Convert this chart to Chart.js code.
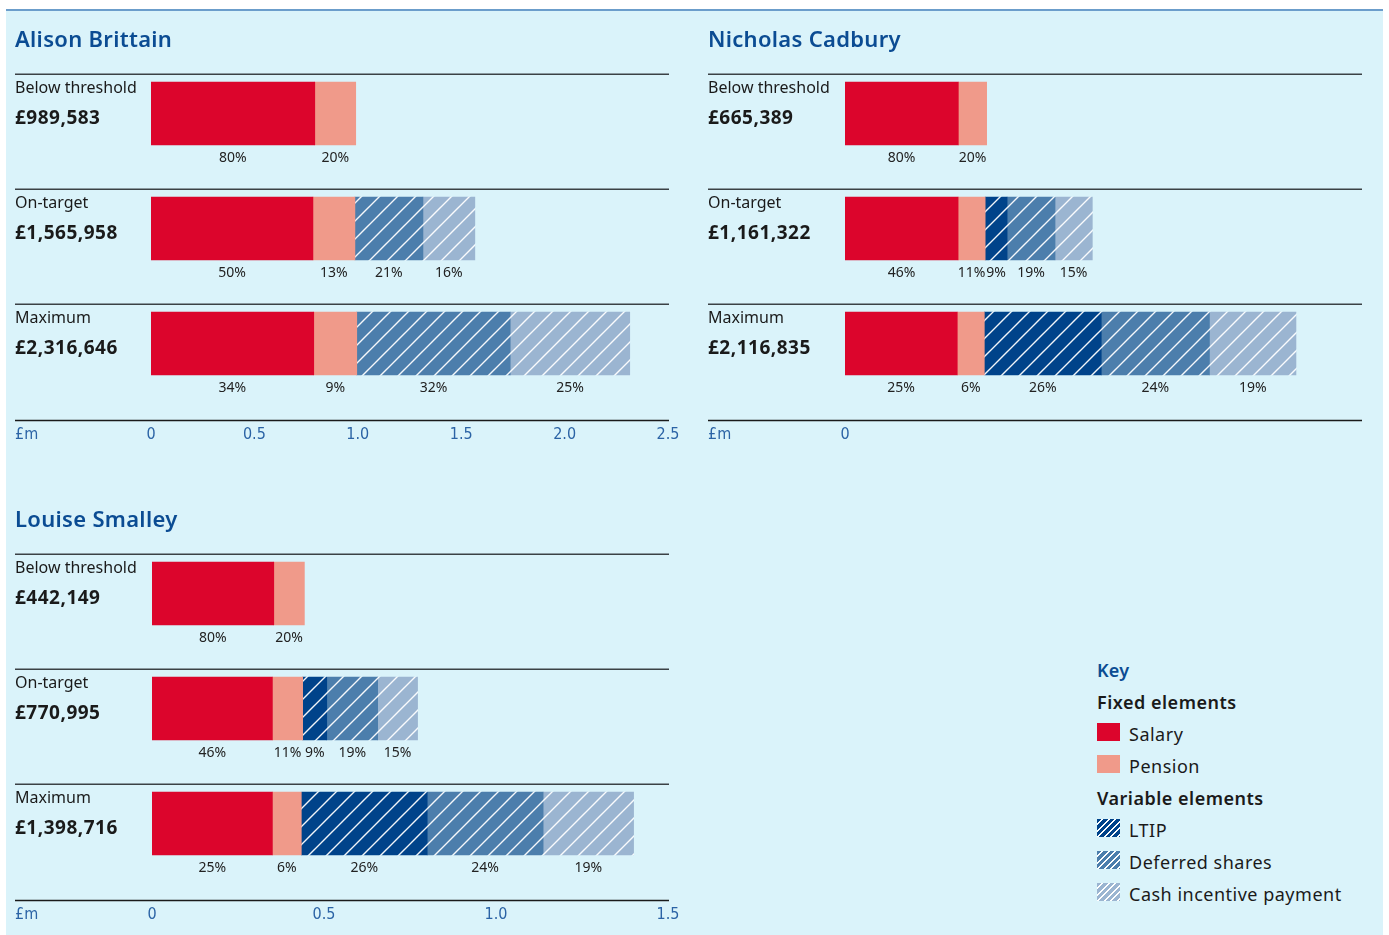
<!DOCTYPE html>
<html><head><meta charset="utf-8">
<script src="https://cdn.jsdelivr.net/npm/chart.js@4.4.1/dist/chart.umd.min.js"></script>
<style>
html,body{margin:0;padding:0;background:#fff;}
body{width:1389px;height:935px;position:relative;overflow:hidden;font-family:"Noto Sans",sans-serif;}
#panel{position:absolute;left:6px;top:9px;width:1377px;height:926px;background:#daf3fa;border-top:2px solid #6b9dcb;box-sizing:border-box;}
canvas{position:absolute;}
.lg{position:absolute;left:1097px;font-size:18px;line-height:24px;color:#1a1a1a;white-space:nowrap;transform:translateY(-50%);letter-spacing:0.5px;}
.lg.key{color:#0b4c93;font-weight:600;letter-spacing:0.2px;}
.lg.head{font-weight:600;}
.lg.item{left:1129px;}
.sw{position:absolute;left:1097px;width:23px;height:18px;}
</style></head>
<body>
<div id="panel"></div>
<canvas id="cA" width="690" height="460" style="left:0;top:0"></canvas>
<canvas id="cB" width="690" height="460" style="left:693px;top:0"></canvas>
<canvas id="cC" width="690" height="455" style="left:0;top:480px"></canvas>

<div class="lg key" style="top:670px">Key</div>
<div class="lg head" style="top:702px">Fixed elements</div>
<div class="sw" style="top:723px;background:#dc052c"></div>
<div class="lg item" style="top:734px">Salary</div>
<div class="sw" style="top:755px;background:#f09a8a"></div>
<div class="lg item" style="top:766px">Pension</div>
<div class="lg head" style="top:798px">Variable elements</div>
<div class="sw" style="top:819px;background:repeating-linear-gradient(135deg,#00438a 0 3.4px,#ffffff 3.4px 4.6px)"></div>
<div class="lg item" style="top:830px">LTIP</div>
<div class="sw" style="top:851px;background:repeating-linear-gradient(135deg,#4c7eac 0 3.4px,#ffffff 3.4px 4.6px)"></div>
<div class="lg item" style="top:862px">Deferred shares</div>
<div class="sw" style="top:883px;background:repeating-linear-gradient(135deg,#9bb5d1 0 3.4px,#ffffff 3.4px 4.6px)"></div>
<div class="lg item" style="top:894px">Cash incentive payment</div>

<script>
// ---- Data (£m; null = element not present) ----
const categories = ['Below threshold', 'On-target', 'Maximum'];
const seriesNames = ['Salary', 'Pension', 'LTIP', 'Deferred shares', 'Cash incentive payment'];

const alisonTotals = ['£989,583', '£1,565,958', '£2,316,646'];
const alisonSalary = [0.792, 0.783, 0.787];
const alisonPension = [0.198, 0.203, 0.208];
const alisonLTIP = [null, null, null];
const alisonDeferred = [null, 0.329, 0.742];
const alisonCash = [null, 0.251, 0.578];
const alisonPct = [['80%', '50%', '34%'], ['20%', '13%', '9%'], ['', '', ''], ['', '21%', '32%'], ['', '16%', '25%']];
const alisonTicks = [0, 0.5, 1.0, 1.5, 2.0, 2.5];
const alisonTickLabels = ['0', '0.5', '1.0', '1.5', '2.0', '2.5'];

const nicholasTotals = ['£665,389', '£1,161,322', '£2,116,835'];
const nicholasSalary = [0.532, 0.531, 0.527];
const nicholasPension = [0.133, 0.127, 0.127];
const nicholasLTIP = [null, 0.103, 0.549];
const nicholasDeferred = [null, 0.225, 0.508];
const nicholasCash = [null, 0.175, 0.406];
const nicholasPct = [['80%', '46%', '25%'], ['20%', '11%', '6%'], ['', '9%', '26%'], ['', '19%', '24%'], ['', '15%', '19%']];
const nicholasTicks = [0];
const nicholasTickLabels = ['0'];

const louiseTotals = ['£442,149', '£770,995', '£1,398,716'];
const louiseSalary = [0.354, 0.350, 0.350];
const louisePension = [0.089, 0.088, 0.084];
const louiseLTIP = [null, 0.070, 0.366];
const louiseDeferred = [null, 0.148, 0.337];
const louiseCash = [null, 0.116, 0.263];
const louisePct = [['80%', '46%', '25%'], ['20%', '11%', '6%'], ['', '9%', '26%'], ['', '19%', '24%'], ['', '15%', '19%']];
const louiseTicks = [0, 0.5, 1.0, 1.5];
const louiseTickLabels = ['0', '0.5', '1.0', '1.5'];

// ---- Styles ----
const BAR = 63;
const TICKFONT = '"Liberation Sans Narrow", "DejaVu Sans Condensed", sans-serif';
function hatch(color, s) {
  const c = document.createElement('canvas');
  c.width = s; c.height = s;
  const x = c.getContext('2d');
  x.fillStyle = color; x.fillRect(0, 0, s, s);
  x.strokeStyle = 'rgba(255,255,255,0.95)'; x.lineWidth = 1.4;
  x.beginPath();
  x.moveTo(-2, 2); x.lineTo(2, -2);
  x.moveTo(0, s); x.lineTo(s, 0);
  x.moveTo(s - 2, s + 2); x.lineTo(s + 2, s - 2);
  x.stroke();
  return x.createPattern(c, 'repeat');
}
const fills = ['#dc052c', '#f09a8a', hatch('#00438a', 18), hatch('#4c7eac', 18), hatch('#9bb5d1', 18)];

const decor = {
  id: 'decor',
  afterDraw(chart, args, o) {
    const ctx = chart.ctx, ys = chart.scales.y;
    ctx.save();
    ctx.textAlign = 'left'; ctx.textBaseline = 'middle';
    ctx.fillStyle = '#0b4c93'; ctx.font = '600 22px "Noto Sans"';
    ctx.letterSpacing = '0.3px';
    ctx.fillText(o.title, 15, 41);
    categories.forEach((cat, i) => {
      const top = ys.getPixelForValue(i) - BAR / 2;
      ctx.strokeStyle = '#3b4145'; ctx.lineWidth = 1.5;
      ctx.beginPath(); ctx.moveTo(15, Math.round(top - 8) + 0.25); ctx.lineTo(669, Math.round(top - 8) + 0.25); ctx.stroke();
      ctx.fillStyle = '#1a1a1a'; ctx.font = '400 16px "Noto Sans"';
      ctx.letterSpacing = '0px';
      ctx.fillText(cat, 15, top + 6.5);
      ctx.font = '700 19px "Noto Sans"';
      ctx.letterSpacing = '0.5px';
      ctx.fillText(o.totals[i], 15, top + 37);
    });
    ctx.letterSpacing = '0px';
    const lastBottom = ys.getPixelForValue(categories.length - 1) + BAR / 2;
    ctx.strokeStyle = '#1a1a1a'; ctx.lineWidth = 1.3;
    ctx.beginPath(); ctx.moveTo(15, lastBottom + 45.5); ctx.lineTo(669, lastBottom + 45.5); ctx.stroke();
    ctx.fillStyle = '#2b63a5'; ctx.font = '16px ' + TICKFONT;
    ctx.fillText('£m', 15, lastBottom + 59.5);
    ctx.textAlign = 'center';
    ctx.fillStyle = '#222'; ctx.font = '14px "Noto Sans"';
    chart.data.datasets.forEach((ds, di) => {
      const meta = chart.getDatasetMeta(di);
      meta.data.forEach((el, i) => {
        const lab = o.pct[di][i];
        if (!lab || !ds.data[i]) return;
        const p = el.getProps(['x', 'base', 'y', 'height'], true);
        ctx.fillText(lab, (p.x + p.base) / 2, p.y + BAR / 2 + 13);
      });
    });
    ctx.restore();
  }
};

function makeChart(id, title, series, totals, pct, max, tickVals, tickLabels, padLeft, padRight, padBottom) {
  new Chart(document.getElementById(id), {
    type: 'bar',
    data: {
      labels: categories,
      datasets: series.map((d, i) => ({
        label: seriesNames[i], data: d, backgroundColor: fills[i],
        borderWidth: 0, barThickness: BAR
      }))
    },
    options: {
      indexAxis: 'y', responsive: false, animation: false, devicePixelRatio: 1, events: [],
      layout: { padding: { left: padLeft, right: padRight, top: 56, bottom: padBottom } },
      plugins: { legend: { display: false }, tooltip: { enabled: false }, decor: { title, totals, pct } },
      scales: {
        y: { stacked: true, display: false },
        x: {
          stacked: true, min: 0, max: max,
          grid: { display: false, drawTicks: false }, border: { display: false },
          afterBuildTicks: s => { s.ticks = tickVals.map(v => ({ value: v })); },
          afterFit: s => { s.height = 50; s.paddingLeft = 0; s.paddingRight = 0; },
          ticks: {
            padding: 24, color: '#2b63a5', maxRotation: 0, autoSkip: false,
            font: { size: 16, family: TICKFONT },
            callback: (v, i) => tickLabels[i]
          }
        }
      }
    },
    plugins: [decor]
  });
}

makeChart('cA', 'Alison Brittain', [alisonSalary, alisonPension, alisonLTIP, alisonDeferred, alisonCash],
  alisonTotals, alisonPct, 2.5, alisonTicks, alisonTickLabels, 151, 22, 9);
makeChart('cB', 'Nicholas Cadbury', [nicholasSalary, nicholasPension, nicholasLTIP, nicholasDeferred, nicholasCash],
  nicholasTotals, nicholasPct, 2.427, nicholasTicks, nicholasTickLabels, 152, 21, 9);
makeChart('cC', 'Louise Smalley', [louiseSalary, louisePension, louiseLTIP, louiseDeferred, louiseCash],
  louiseTotals, louisePct, 1.5, louiseTicks, louiseTickLabels, 152, 22, 4);
</script>
</body></html>
